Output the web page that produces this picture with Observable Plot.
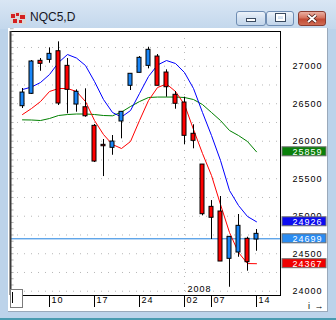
<!DOCTYPE html>
<html>
<head>
<meta charset="utf-8">
<script src="https://cdn.jsdelivr.net/npm/d3@7"></script>
<script src="https://cdn.jsdelivr.net/npm/@observablehq/plot@0.6"></script>
<style>
html,body{margin:0;padding:0}
body{width:336px;height:320px;overflow:hidden;position:relative;background:#bcd3ea;font-family:"Liberation Sans",Arial,sans-serif}
#titlebar{position:absolute;left:0;top:0;width:336px;height:29px;background:linear-gradient(#d9e6f4,#c3d7ec)}
#title{position:absolute;left:30px;top:10px;font-size:12px;color:#15151f;line-height:14px}
#icon{position:absolute;left:10px;top:12px}
.btn{position:absolute;top:11px;height:13px;border:1px solid #6f8db3;border-radius:3px;background:linear-gradient(#edf3fa,#d3e1f1 50%,#c2d5ea)}
#bmin{left:236px;width:28px}
#bmax{left:266px;width:26px}
#bclose{left:298px;width:26px;border-color:#8a3b30;background:linear-gradient(#eab0a2,#d6735f 45%,#c24a34 55%,#cf6d55)}
#gmin{position:absolute;left:9px;top:6px;width:8px;height:2px;background:#fff;border:1px solid #3a4a60}
#gmax{position:absolute;left:9px;top:2px;width:5px;height:3px;border:2px solid #fff;outline:1px solid #3a4a60}
#content{position:absolute;left:8px;top:28px;width:319px;height:283px;background:#fff;border-right:1px solid #9aa9ba;border-bottom:1px solid #9aa9ba}
#chart{position:absolute;left:9px;top:29px}
#chart svg text{letter-spacing:1px}
#thumb{position:absolute;left:10px;top:289px;width:11px;height:17px;border:1px solid #7b7b7b;background:#fff}
#thumb div{position:absolute;left:1px;top:2px;width:1px;height:11px;background:#000}
#bottomline{position:absolute;left:0;top:318px;width:336px;height:2px;background:#4a9bb0}
</style>
</head>
<body>
<div id="titlebar"></div>
<svg id="icon" width="16" height="12" viewBox="0 0 16 12">
  <rect x="0" y="0" width="16" height="12" fill="#d8d8d8"/>
  <rect x="1" y="2" width="4" height="4" fill="#d42020"/>
  <rect x="6" y="1" width="3" height="3" fill="#d42020"/>
  <rect x="10" y="3" width="5" height="4" fill="#d42020"/>
  <rect x="3" y="7" width="4" height="4" fill="#d42020"/>
  <rect x="9" y="8" width="3" height="3" fill="#d42020"/>
</svg>
<div id="title">NQC5,D</div>
<div class="btn" id="bmin"><div id="gmin"></div></div>
<div class="btn" id="bmax"><div id="gmax"></div></div>
<div class="btn" id="bclose"><svg width="26" height="13" style="position:absolute;left:0;top:0"><path d="M9 3 L17 10 M17 3 L9 10" stroke="#4a1a14" stroke-width="3.6"/><path d="M9 3 L17 10 M17 3 L9 10" stroke="#fff" stroke-width="2"/></svg></div>
<div id="content"></div>
<div id="chart"></div>
<div id="thumb"><div></div></div>
<div id="bottomline"></div>
<script>
// ---- data ----
const dates = ["2007-12-05","2007-12-06","2007-12-07","2007-12-10","2007-12-11","2007-12-12","2007-12-13","2007-12-14",
  "2007-12-17","2007-12-18","2007-12-19","2007-12-20","2007-12-21","2007-12-24","2007-12-26","2007-12-27","2007-12-28",
  "2007-12-31","2008-01-02","2008-01-03","2008-01-04","2008-01-07","2008-01-08","2008-01-09","2008-01-10","2008-01-11","2008-01-14"];
const opens  = [26467,26632,27072,27085,27200,27005,26489,26453,26205,25952,25912,26263,26739,26912,27005,27129,26916,26619,26516,26099,25689,25125,25063,24432,24516,24699,24689];
const highs  = [26703,27076,27103,27245,27325,27103,26685,26699,26223,26023,26076,26392,26899,27129,27253,27156,26952,26663,26587,26219,25689,25209,25263,24725,25023,24720,24823];
const lows   = [26436,26623,26933,27040,26476,26365,26387,26320,25716,25529,25813,26032,26676,26912,26965,26739,26587,26427,25952,25899,25005,24690,24396,24053,24453,24267,24533];
const closes = [26649,27063,27032,27165,26503,26685,26659,26333,25729,25933,25996,26392,26899,27112,27219,26739,26720,26499,26072,26005,25027,24979,24396,24725,24872,24387,24765];
const blueMA  = [26689,26723,26783,26889,27049,27156,27109,27009,26796,26556,26383,26323,26409,26636,26863,27016,27076,27036,26916,26703,26383,26076,25743,25343,25143,24996,24926];
const redMA   = [26356,26436,26529,26663,26703,26703,26663,26529,26276,26089,25956,25903,25996,26276,26543,26716,26763,26663,26489,26156,25836,25543,25156,24783,24516,24369,24367];
const greenMA = [26285,26283,26276,26303,26343,26356,26363,26363,26356,26343,26339,26389,26463,26529,26583,26589,26589,26589,26583,26556,26489,26383,26276,26143,26076,25996,25859];
const priceTicks = [24000,24500,25000,25500,26000,26500,27000];
const gridLevels = [24000,24250,24500,24750,25000,25250,25500,25750,26000,26250,26500,26750,27000,27250];
const tickDates  = ["2007-12-10","2007-12-17","2007-12-24","2008-01-02","2008-01-07","2008-01-14"];
const tickLabels = ["10","17","24","02","07","14"];
const yearStart = "2008-01-02";
const yearLabel = "2008";
const lastPrice = 24699;
const valueBoxes = [
  {v: 25859, color: "#0a800a"},
  {v: 24926, color: "#0c0cf0"},
  {v: 24699, color: "#2a8cf2"},
  {v: 24367, color: "#f00000"}
];

// ---- build ----
const rows = dates.map((d, i) => ({i, date: d, open: opens[i], high: highs[i], low: lows[i], close: closes[i],
  blue: blueMA[i], red: redMA[i], green: greenMA[i]}));
const idx = d => dates.indexOf(d);
const tickIdx = tickDates.map(idx);
const xDomain = [-4/3, 86/3];
const yDomain = [23943, 27463];
const minorLevels = d3.range(yDomain[0], yDomain[1], 250/3).map(v => Math.ceil(v/(250/3))*(250/3));

const chart = Plot.plot({
  width: 318, height: 282,
  marginLeft: 1, marginRight: 47, marginTop: 2, marginBottom: 16,
  x: {domain: xDomain, axis: null},
  y: {domain: yDomain, axis: null},
  style: {background: "white", fontFamily: "Liberation Sans, Arial, sans-serif", fontSize: "9px", color: "black", overflow: "visible"},
  marks: [
    Plot.ruleY(gridLevels, {stroke: "#b8b8b8", strokeDasharray: "1,6"}),
    Plot.ruleX([idx(yearStart)], {stroke: "#b8b8b8", strokeDasharray: "1,6"}),
    Plot.ruleY(minorLevels, {x1: () => xDomain[0], x2: () => xDomain[0] + 0.4, stroke: "#b5b5b5"}),
    Plot.ruleY([lastPrice], {stroke: "#1f80e0"}),
    Plot.line(rows, {x: "i", y: "green", stroke: "#008000", strokeWidth: 1}),
    Plot.line(rows, {x: "i", y: "red", stroke: "#ff0000", strokeWidth: 1}),
    Plot.line(rows, {x: "i", y: "blue", stroke: "#0000ff", strokeWidth: 1}),
    Plot.ruleX(rows, {x: "i", y1: "low", y2: "high", stroke: "black"}),
    Plot.rect(rows, {x1: d => d.i - 2/9, x2: d => d.i + 2/9, y1: "open", y2: "close",
      fill: d => d.close >= d.open ? "#1a86f7" : "#ff0000", stroke: "black"}),
    Plot.frame({stroke: "black"}),
    Plot.ruleX([xDomain[0]], {stroke: "#3a3a3a", strokeWidth: 2}),
    Plot.axisY({anchor: "right", ticks: priceTicks, tickSize: 0, tickPadding: 12, tickFormat: d => String(d)}),
    Plot.axisX({ticks: tickIdx, tickSize: 12, tickFormat: () => ""}),
    Plot.text(tickIdx, {x: d => d, frameAnchor: "bottom", dy: 7, dx: 2, textAnchor: "start", text: (d, i) => tickLabels[i], fill: "black"}),
    Plot.text([idx(yearStart)], {x: d => d, frameAnchor: "bottom", dy: -4, dx: 3, textAnchor: "start", text: () => yearLabel, fill: "black"}),
    Plot.rect(valueBoxes, {x1: () => xDomain[1], x2: () => xDomain[1], y1: "v", y2: "v",
      insetLeft: 2, insetRight: -46, insetTop: -4.5, insetBottom: -4.5, fill: "color", stroke: "#707070"}),
    Plot.text(valueBoxes, {x: () => xDomain[1], y: "v", dx: 12, textAnchor: "start", text: d => String(d.v), fill: "white"})
  ]
});
document.getElementById("chart").appendChild(chart);
</script>
</body>
</html>
